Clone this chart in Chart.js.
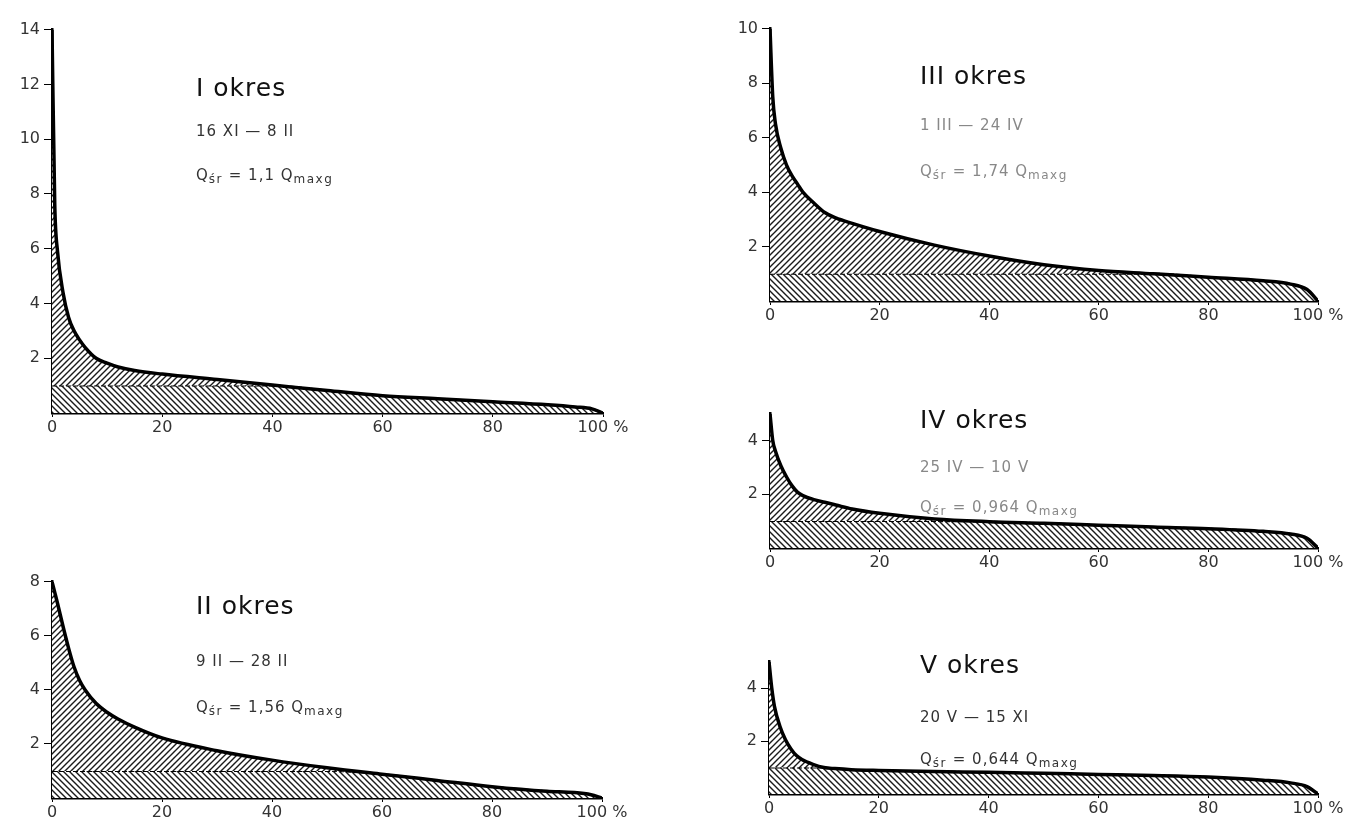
<!DOCTYPE html>
<html>
<head>
<meta charset="utf-8">
<script src="https://cdn.jsdelivr.net/npm/chart.js@4.4.1/dist/chart.umd.min.js"></script>
<style>
  body { margin: 0; background: #fff; width: 1362px; height: 827px; overflow: hidden; position: relative; }
  canvas { position: absolute; }
  .lbl { position: absolute; white-space: nowrap; font-family: "DejaVu Sans", sans-serif; color: #222; line-height: 1; }
  .title { font-size: 25px; letter-spacing: 1px; color: #111; }
  .sub { font-size: 15px; letter-spacing: 1px; color: #333; }
  .sub sub { font-size: 12px; vertical-align: -3px; letter-spacing: 1.5px; }
  .faded { color: #888; }
</style>
</head>
<body>
<script>
// percent of time the flow is equalled or exceeded
const pct = [0, 0.5, 1, 2, 3, 4, 5, 6, 8, 10, 12, 15, 20, 30, 40, 50, 60, 70, 80, 90, 95, 98, 100];

// Q / Qmaxg for each period
const q1 = [14, 7.6, 5.9, 4.4, 3.5, 3.0, 2.67, 2.4, 2.0, 1.82, 1.68, 1.55, 1.42, 1.22, 1.02, 0.82, 0.63, 0.52, 0.41, 0.3, 0.22, 0.15, 0];
const q2 = [8, 7.6, 7.2, 6.35, 5.55, 4.85, 4.35, 4.0, 3.5, 3.17, 2.92, 2.62, 2.22, 1.75, 1.4, 1.12, 0.88, 0.65, 0.42, 0.25, 0.2, 0.12, 0];
const q3 = [10, 7.5, 6.5, 5.6, 5.0, 4.6, 4.3, 4.0, 3.6, 3.25, 3.05, 2.85, 2.55, 2.05, 1.65, 1.33, 1.12, 1.0, 0.87, 0.74, 0.62, 0.42, 0];
const q4 = [5, 4.0, 3.6, 3.05, 2.65, 2.32, 2.08, 1.95, 1.8, 1.7, 1.6, 1.45, 1.29, 1.08, 0.98, 0.92, 0.85, 0.78, 0.72, 0.62, 0.52, 0.36, 0];
const q5 = [5, 4.0, 3.3, 2.55, 2.05, 1.7, 1.45, 1.3, 1.12, 1.0, 0.96, 0.92, 0.89, 0.85, 0.82, 0.78, 0.74, 0.7, 0.64, 0.52, 0.42, 0.28, 0];

const yMaxes = [14, 8, 10, 5, 5];
const refLevel = 1; // Qmaxg line
const xTicks = [0, 20, 40, 60, 80, 100];

const titles = ['I okres', 'II okres', 'III okres', 'IV okres', 'V okres'];
const dates = ['16 XI — 8 II', '9 II — 28 II', '1 III — 24 IV', '25 IV — 10 V', '20 V — 15 XI'];
const means = ['1,1', '1,56', '1,74', '0,964', '0,644'];
const faded = [false, false, true, true, false];

// chart areas on the page: left, top, right, bottom
const boxes = [
  [52, 28, 603, 413],
  [52, 580, 602, 798],
  [770, 27, 1318, 301],
  [770, 412, 1318, 548],
  [769, 660, 1318, 794],
];
// text block: x, y of title / dates / mean lines
const textPos = [
  [196, 88, 132, 176],
  [196, 606, 662, 708],
  [920, 76, 126, 172],
  [920, 420, 468, 508],
  [920, 665, 718, 760],
];

function hatch(dir) {
  const s = 6;
  const c = document.createElement('canvas');
  c.width = c.height = s;
  const g = c.getContext('2d');
  g.fillStyle = '#fff';
  g.fillRect(0, 0, s, s);
  g.strokeStyle = '#1a1a1a';
  g.lineWidth = 1.4;
  g.beginPath();
  if (dir === '/') {
    g.moveTo(0, s); g.lineTo(s, 0);
    g.moveTo(-1, 1); g.lineTo(1, -1);
    g.moveTo(s - 1, s + 1); g.lineTo(s + 1, s - 1);
  } else {
    g.moveTo(0, 0); g.lineTo(s, s);
    g.moveTo(s - 1, -1); g.lineTo(s + 1, 1);
    g.moveTo(-1, s - 1); g.lineTo(1, s + 1);
  }
  g.stroke();
  return g.createPattern(c, 'repeat');
}

const tickFont = { family: '"DejaVu Sans", sans-serif', size: 16 };

function addText(i) {
  const [x, yT, yD, yM] = textPos[i];
  const t = document.createElement('div');
  t.className = 'lbl title';
  t.style.left = x + 'px';
  t.style.top = (yT - 13) + 'px';
  t.textContent = titles[i];
  document.body.appendChild(t);

  const d = document.createElement('div');
  d.className = 'lbl sub' + (faded[i] ? ' faded' : '');
  d.style.left = x + 'px';
  d.style.top = (yD - 8) + 'px';
  d.textContent = dates[i];
  document.body.appendChild(d);

  const m = document.createElement('div');
  m.className = 'lbl sub' + (faded[i] ? ' faded' : '');
  m.style.left = x + 'px';
  m.style.top = (yM - 8) + 'px';
  m.innerHTML = 'Q<sub>śr</sub> = ' + means[i] + ' Q<sub>maxg</sub>';
  document.body.appendChild(m);
}

function makePanel(i, q) {
  const [l, t, r, b] = boxes[i];
  const padTop = 12, padRight = 45, yW = 48, xH = 30;
  const canvas = document.createElement('canvas');
  canvas.width = (r - l) + yW + padRight;
  canvas.height = (b - t) + padTop + xH;
  canvas.style.left = (l - yW) + 'px';
  canvas.style.top = (t - padTop) + 'px';
  document.body.appendChild(canvas);

  new Chart(canvas, {
    type: 'line',
    data: {
      datasets: [
        {
          data: pct.map((x, k) => ({ x, y: q[k] })),
          fill: 1,
          backgroundColor: hatch('/'),
          borderColor: '#000',
          borderWidth: 3.5,
          pointRadius: 0,
          cubicInterpolationMode: 'monotone',
          order: 0,
        },
        {
          data: pct.map((x, k) => ({ x, y: Math.min(q[k], refLevel) })),
          fill: 'origin',
          backgroundColor: hatch('\\'),
          borderColor: '#000',
          borderWidth: 2,
          borderDash: [5, 2],
          pointRadius: 0,
          cubicInterpolationMode: 'monotone',
          order: 1,
        },
      ],
    },
    options: {
      responsive: false,
      animation: false,
      layout: { padding: { top: padTop, right: padRight, left: 0, bottom: 0 } },
      plugins: { legend: { display: false }, tooltip: { enabled: false } },
      scales: {
        x: {
          type: 'linear',
          min: 0,
          max: 100,
          afterBuildTicks: (s) => { s.ticks = xTicks.map((v) => ({ value: v })); },
          ticks: {
            color: '#333',
            font: tickFont,
            maxRotation: 0,
            padding: 1,
            callback: (v) => (v === 100 ? '100 %' : v),
          },
          grid: { drawOnChartArea: false, drawTicks: true, tickLength: 4, color: '#000' },
          border: { color: '#000', width: 2.5 },
          afterFit: (s) => { s.height = xH; },
        },
        y: {
          min: 0,
          max: yMaxes[i],
          afterBuildTicks: (s) => {
            s.ticks = s.ticks.filter((tk) => tk.value > 0 && tk.value % 2 === 0);
          },
          ticks: { stepSize: 2, color: '#333', font: tickFont, padding: 4 },
          grid: { drawOnChartArea: false, drawTicks: true, tickLength: 8, color: '#000' },
          border: { color: '#000', width: 2.5 },
          afterFit: (s) => { s.width = yW; },
        },
      },
    },
  });
  addText(i);
}

[q1, q2, q3, q4, q5].forEach((q, i) => makePanel(i, q));
</script>
</body>
</html>
